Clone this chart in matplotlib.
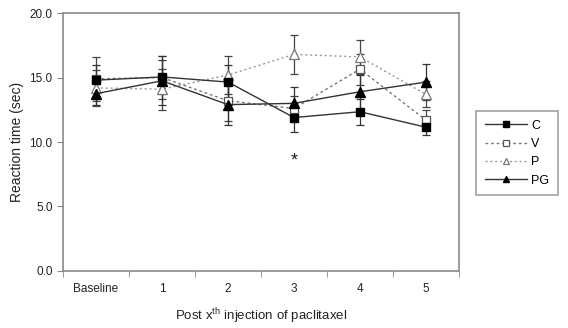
import numpy as np
import matplotlib
matplotlib.use("Agg")
import matplotlib.pyplot as plt

plt.rcParams["font.family"] = ["Liberation Sans", "DejaVu Sans"]
plt.rcParams["mathtext.fontset"] = "custom"
plt.rcParams["mathtext.rm"] = "Liberation Sans"

categories = ["Baseline", "1", "2", "3", "4", "5"]

c_mean = [14.8, 15.05, 14.65, 11.9, 12.35, 11.15]
c_err = [1.2, 1.3, 1.3, 1.1, 1.0, 0.6]
v_mean = [14.9, 15.0, 13.2, 12.6, 15.65, 11.7]
v_err = [1.7, 1.7, 1.6, 1.0, 1.2, 0.8]
p_mean = [14.2, 14.1, 15.2, 16.8, 16.6, 13.7]
p_err = [1.4, 1.6, 1.5, 1.5, 1.3, 1.0]
pg_mean = [13.75, 14.75, 12.9, 13.0, 13.9, 14.65]
pg_err = [0.9, 1.9, 1.6, 1.3, 1.3, 1.4]

star_pos = 3
star_y = 8.5

x = np.arange(len(categories))

fig = plt.figure(figsize=(5.68, 3.28), dpi=100)
ax = fig.add_axes([0.111, 0.174, 0.697, 0.786])

spine_col = "#8a8a8a"
ebar_kw = dict(capsize=3, elinewidth=0.9, capthick=0.9)

ax.errorbar(x, v_mean, yerr=v_err, color="#777777", ecolor="#444444", ls=(0, (2, 2)), lw=1.0,
            marker="s", ms=6, mfc="white", mec="#555555", mew=0.9, label="V", **ebar_kw)
ax.errorbar(x, p_mean, yerr=p_err, color="#999999", ecolor="#444444", ls=(0, (1.5, 2)), lw=1.0,
            marker="^", ms=6.5, mfc="white", mec="#777777", mew=0.9, label="P", **ebar_kw)
ax.errorbar(x, c_mean, yerr=c_err, color="#333333", ecolor="#333333", ls="-", lw=1.0,
            marker="s", ms=6, mfc="black", mec="black", label="C", **ebar_kw)
ax.errorbar(x, pg_mean, yerr=pg_err, color="#333333", ecolor="#333333", ls="-", lw=1.0,
            marker="^", ms=6.5, mfc="black", mec="black", label="PG", **ebar_kw)

ax.text(star_pos, star_y, "*", ha="center", va="center", fontsize=13, color="#222222")

ax.set_xlim(-0.5, len(categories) - 0.5)
ax.set_ylim(0, 20)
ax.set_yticks([0, 5, 10, 15, 20])
ax.set_yticklabels(["0.0", "5.0", "10.0", "15.0", "20.0"])
ax.set_xticks(x)
ax.set_xticklabels(categories)
ax.set_xticks(np.arange(-0.5, len(categories)), minor=True)
ax.tick_params(axis="x", which="major", length=0, pad=9, labelsize=8.5, colors="#222222")
ax.tick_params(axis="x", which="minor", length=4, color=spine_col, direction="out")
ax.tick_params(axis="y", length=4, color=spine_col, labelsize=8.5, colors="#222222")

for s in ax.spines.values():
    s.set_color(spine_col)
    s.set_linewidth(1.2)

ax.set_ylabel("Reaction time (sec)", fontsize=10, color="#222222", labelpad=4)
ax.set_xlabel("Post x$^{\\mathrm{th}}$ injection of paclitaxel", fontsize=9.5, color="#222222", labelpad=8)

handles, labels = ax.get_legend_handles_labels()
handles = [h[0] for h in handles]
order = [labels.index(k) for k in ["C", "V", "P", "PG"]]
leg = fig.legend([handles[i] for i in order], ["C", "V", "P", "PG"],
                 loc="upper left", bbox_to_anchor=(476 / 568, 1 - 111 / 328),
                 frameon=True, fancybox=False, fontsize=9, handlelength=3.4,
                 labelspacing=0.5, borderpad=0.7, handletextpad=0.3, markerscale=0.75,
                 borderaxespad=0)
leg.get_frame().set_edgecolor(spine_col)
leg.get_frame().set_linewidth(1.2)

plt.savefig("out.png", dpi=100)
